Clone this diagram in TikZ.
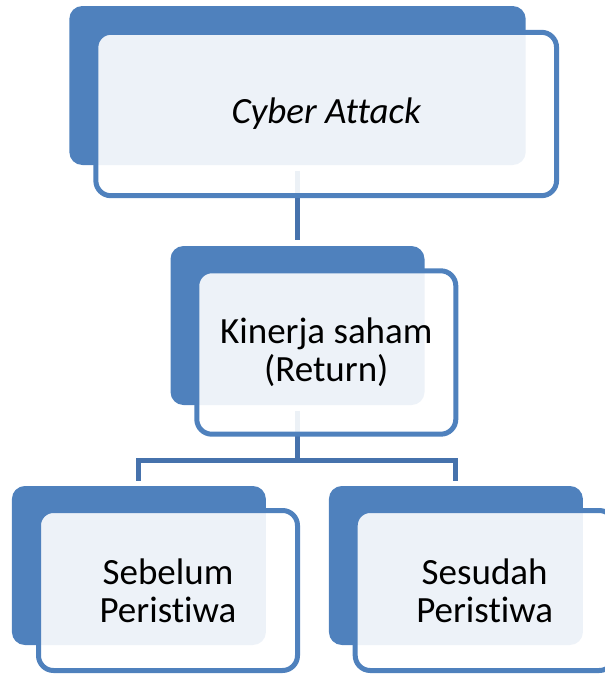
\documentclass[tikz,border=0pt]{standalone}
\usepackage{fontspec}
\setmainfont{Carlito}[Ligatures=NoCommon]
\definecolor{accent}{HTML}{4F81BD}
\definecolor{connc}{HTML}{4672AC}
\begin{document}
\begin{tikzpicture}[x=1pt,y=-1pt,
  back/.style={rectangle, rounded corners=13pt, fill=accent, inner sep=0pt,
    minimum width=254pt, minimum height=159pt},
  front/.style={rectangle, rounded corners=15pt, draw=accent, line width=5pt,
    fill=white, fill opacity=0.9, text opacity=1, inner sep=0pt,
    minimum width=259pt, minimum height=163.4pt, align=center,
    font=\fontsize{37}{38.4}\selectfont},
  conn/.style={draw=connc, line width=5pt, line join=miter}]
\useasboundingbox (0,0) rectangle (605,675);
\clip (0,0) rectangle (605,675);
% back shapes
\node[back, minimum width=456.4pt] (tb) at (297.5,85.5) {};
\node[back] (mb) at (297.5,325.5) {};
\node[back] (lb) at (138.9,565.5) {};
\node[back] (rb) at (455.9,565.5) {};
% connectors
\coordinate (bar) at (297.5,460);
\draw[conn, shorten <=6pt, shorten >=6pt] (tb.south) -- (mb.north);
\draw[conn, shorten <=6pt] (mb.south) -- (bar);
\draw[conn, shorten <=5pt, shorten >=5pt] (lb.north) |- (bar) -| (rb.north);
% front shapes with text
\node[front, minimum width=460.7pt] (tf) at (326.2,114) {\itshape Cyber Attack};
\node[front] (mf) at (326.3,352.5) {Kinerja saham\\(Return)};
\node[front, minimum height=160pt] (lf) at (168,590.5) {Sebelum\\Peristiwa};
\node[front, minimum height=160pt] (rf) at (484.7,590.5) {Sesudah\\Peristiwa};
\end{tikzpicture}
\end{document}
